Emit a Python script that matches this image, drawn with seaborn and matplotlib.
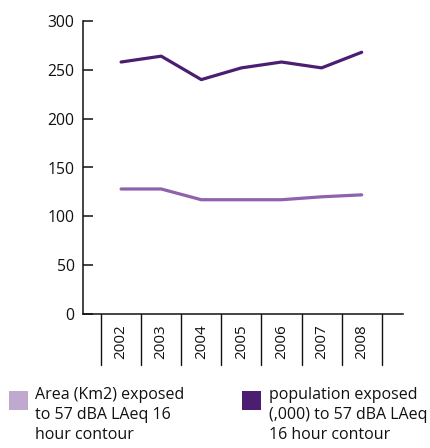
import matplotlib
matplotlib.use("Agg")
import matplotlib.pyplot as plt
import matplotlib.transforms as mtransforms
from matplotlib.patches import Rectangle
import seaborn as sns
import pandas as pd

years = ["2002", "2003", "2004", "2005", "2006", "2007", "2008"]
area = [128, 128, 117, 117, 117, 120, 122]
population = [258, 264, 240, 252, 258, 252, 268]
series_names = ["Area (Km2) exposed\nto 57 dBA LAeq 16\nhour contour",
                "population exposed\n(,000) to 57 dBA LAeq\n16 hour contour"]
line_colors = ["#8e62ad", "#4b1e72"]
legend_colors = ["#bfa9cf", "#4b1e72"]
yticks = [0, 50, 100, 150, 200, 250, 300]

sns.set_style("white")
plt.rcParams["font.family"] = ["Open Sans", "DejaVu Sans"]

df = pd.DataFrame({
    "x": list(range(len(years))) * 2,
    "value": area + population,
    "series": [series_names[0]] * len(years) + [series_names[1]] * len(years),
})

W, H = 430, 448
fig = plt.figure(figsize=(W / 100, H / 100), dpi=100)
ax = fig.add_axes([83 / W, 134 / H, 320 / W, 293 / H])

sns.lineplot(data=df, x="x", y="value", hue="series", palette=line_colors,
             linewidth=2.3, legend=False, ax=ax)

ax.set_xlim(-0.95, 7.03)
ax.set_ylim(0, 300)
ax.set_yticks(yticks)
ax.set_yticklabels([str(t) for t in yticks], fontsize=11.3, color="#111111")
ax.set_xticks([])
ax.set_xlabel("")
ax.set_ylabel("")
ax.tick_params(axis="y", left=True, direction="in", length=7, width=1.1,
               color="#111111", pad=6)
for s in ["top", "right"]:
    ax.spines[s].set_visible(False)
for s in ["left", "bottom"]:
    ax.spines[s].set_color("#111111")
    ax.spines[s].set_linewidth(1.1)

trans = mtransforms.blended_transform_factory(ax.transData, ax.transAxes)
for i in range(len(years) + 1):
    ax.plot([i - 0.5, i - 0.5], [0, -0.174], transform=trans, color="#111111",
            linewidth=1.0, clip_on=False)
for i, yr in enumerate(years):
    ax.text(i, -0.034, yr, transform=trans, rotation=90, ha="center", va="top",
            fontsize=11, color="#111111")

# legend
leg_pos = [(9, 35), (242, 269)]
for (sx, tx), col, name in zip(leg_pos, legend_colors, series_names):
    fig.patches.append(Rectangle((sx / W, 1 - 410 / H), 19 / W, 19 / H,
                                 transform=fig.transFigure, facecolor=col,
                                 edgecolor="none"))
    fig.text(tx / W, 1 - 387 / H, name, ha="left", va="top", fontsize=11.5,
             color="#111111", linespacing=1.33)

fig.savefig("out.png", dpi=100)
